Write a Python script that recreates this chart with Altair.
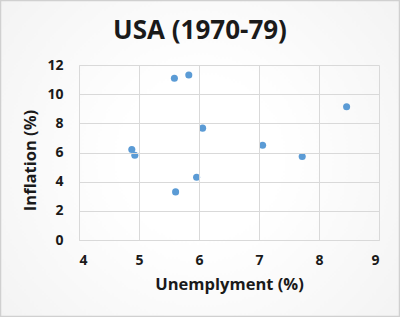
import altair as alt
import pandas as pd

years = [1970, 1971, 1972, 1973, 1974, 1975, 1976, 1977, 1978, 1979]
unemployment = [4.93, 5.96, 5.61, 4.88, 5.59, 8.46, 7.72, 7.06, 6.06, 5.83]
inflation = [5.81, 4.30, 3.30, 6.21, 11.09, 9.14, 5.72, 6.50, 7.67, 11.31]
chart_title = ["USA (1970-79)"]

df = pd.DataFrame({"year": years, "u": unemployment, "i": inflation})

FONT = "Open Sans"
TXT = "#1a1a1a"
GRID = "#d9d9d9"

bg = alt.Chart(pd.DataFrame({"a": [0]})).mark_rect(
    fill={"gradient": "radial", "x1": 0.5, "y1": 0.5, "r1": 0.2,
          "x2": 0.5, "y2": 0.5, "r2": 0.75,
          "stops": [{"offset": 0, "color": "#ffffff"},
                    {"offset": 1, "color": "#f0f0f0"}]},
    stroke="#d0d0d0", strokeWidth=1.5,
).encode(
    x=alt.value(-78.5), x2=alt.value(320.5),
    y=alt.value(-64.5), y2=alt.value(251.5),
)

title = alt.Chart(pd.DataFrame({"t": chart_title})).mark_text(
    font=FONT, fontSize=26, fontWeight="bold", color=TXT,
    align="center", baseline="alphabetic",
).encode(text="t:N", x=alt.value(121), y=alt.value(-26))

pts = alt.Chart(df).mark_circle(size=50, color="#5b9bd5", opacity=1).encode(
    x=alt.X("u:Q", title="Unemplyment (%)",
            scale=alt.Scale(domain=[4, 9], nice=False, zero=False),
            axis=alt.Axis(values=[4, 5, 6, 7, 8, 9], format="d", zindex=1)),
    y=alt.Y("i:Q", title="Inflation (%)",
            scale=alt.Scale(domain=[0, 12], nice=False),
            axis=alt.Axis(values=[0, 2, 4, 6, 8, 10, 12], format="d", zindex=1,
                          titleY=95, titleX=-49, titleAngle=270,
                          titleAlign="center", titleBaseline="middle")),
)

chart = alt.layer(bg, pts, title).properties(
    width=300, height=175,
    padding={"left": 79, "top": 65, "right": 21, "bottom": 77},
    autosize=alt.AutoSizeParams(type="none"),
    background="white",
).configure_view(stroke=GRID, strokeWidth=1).configure_axis(
    grid=True, gridColor=GRID, gridWidth=1, domainColor=GRID, domainWidth=1,
    ticks=False, labelFont=FONT, labelFontSize=14, labelFontWeight="bold",
    labelColor=TXT, titleFont=FONT, titleFontSize=16.5, titleFontWeight="bold",
    titleColor=TXT,
).configure_axisX(labelPadding=13, titlePadding=9).configure_axisY(labelPadding=16, titlePadding=13)

chart.save("out.html", embed_options={"renderer": "svg", "actions": False})
